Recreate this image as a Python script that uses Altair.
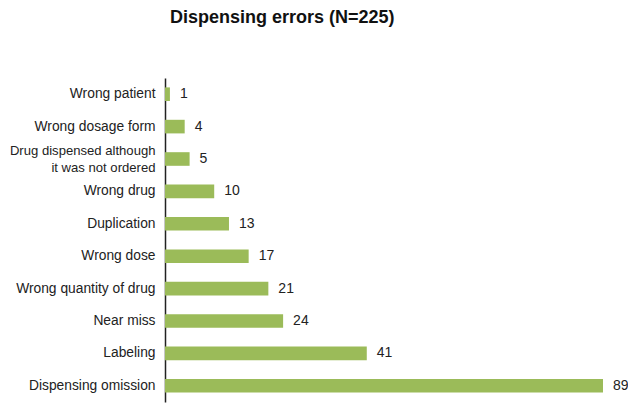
import altair as alt
import pandas as pd

categories = [
    "Wrong patient",
    "Wrong dosage form",
    "Drug dispensed although\nit was not ordered",
    "Wrong drug",
    "Duplication",
    "Wrong dose",
    "Wrong quantity of drug",
    "Near miss",
    "Labeling",
    "Dispensing omission",
]
counts = [1, 4, 5, 10, 13, 17, 21, 24, 41, 89]

df = pd.DataFrame({"category": categories, "count": counts})

wrapped_test = "indexof(datum.value, '\\n') >= 0"

y_enc = alt.Y(
    "category:N",
    sort=categories,
    scale=alt.Scale(paddingInner=0.58, paddingOuter=0.29),
    axis=alt.Axis(
        title=None,
        ticks=False,
        domain=True,
        domainColor="#222222",
        domainWidth=1.5,
        labelFont="Liberation Sans",
        labelFontSize={"condition": {"test": wrapped_test, "value": 13.1}, "value": 13.8},
        labelColor="#222222",
        labelPadding=10,
        labelLimit=200,
        labelLineHeight=17,
        labelOffset={"condition": {"test": wrapped_test, "value": -8}, "value": 0},
        labelExpr="split(datum.label, '\\n')",
    ),
)

x_enc = alt.X(
    "count:Q",
    scale=alt.Scale(domain=[0, 89], nice=False),
    axis=None,
)

bars = alt.Chart(df).mark_bar(color="#9BBB59").encode(y=y_enc, x=x_enc)
labels = alt.Chart(df).mark_text(
    align="left", baseline="middle", dx=10, font="Liberation Sans", fontSize=14, color="#222222"
).encode(y=alt.Y("category:N", sort=categories), x="count:Q", text="count:Q")

chart = (
    alt.layer(bars, labels)
    .properties(
        width=438,
        height=324,
        autosize=alt.AutoSizeParams(type="none"),
        padding={"left": 157, "top": 70, "right": 25, "bottom": 2},
        title=alt.TitleParams(
            "Dispensing errors (N=225)",
            anchor="start",
            frame="group",
            dx=5,
            dy=-47,
            font="Liberation Sans",
            fontSize=18,
            fontWeight="bold",
            color="#111111",
        ),
    )
    .configure_view(stroke=None)
)

chart.save("out.html", embed_options={"renderer": "svg", "actions": False})
